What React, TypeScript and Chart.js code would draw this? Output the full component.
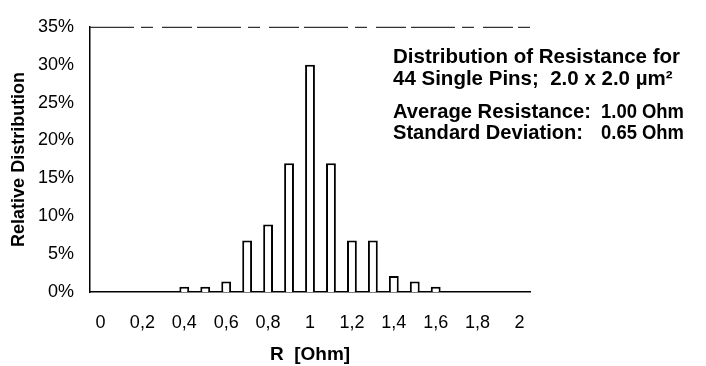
import React, { useEffect, useRef } from "react";
import { Chart, registerables } from "chart.js";

Chart.register(...registerables);

const categories: string[] = [
  "0", "0,1", "0,2", "0,3", "0,4", "0,5", "0,6", "0,7", "0,8", "0,9", "1",
  "1,1", "1,2", "1,3", "1,4", "1,5", "1,6", "1,7", "1,8", "1,9", "2",
];
const relativeDistribution: number[] = [
  0, 0, 0, 0, 0.7, 0.7, 1.4, 6.8, 8.9, 17, 30, 17, 6.8, 6.8, 2.1, 1.4, 0.7, 0, 0, 0, 0,
];
const yTicks: number[] = [0, 5, 10, 15, 20, 25, 30, 35];
const titleLines: string[] = ["Distribution of Resistance for", "44 Single Pins;  2.0 x 2.0 µm²"];
const statLabels: string[] = ["Average Resistance:", "Standard Deviation:"];
const statValues: string[] = ["1.00 Ohm", "0.65 Ohm"];

const FONT = "'Liberation Sans', Arial, Helvetica, sans-serif";

const annotationPlugin = {
  id: "annotation",
  afterDraw(chart: any) {
    const ctx = chart.ctx as CanvasRenderingContext2D;
    const area = chart.chartArea;
    ctx.save();
    // broken top frame line (scanned look)
    ctx.strokeStyle = "#333";
    ctx.lineWidth = 1.2;
    ctx.setLineDash([44, 7, 12, 9, 30, 5]);
    ctx.beginPath();
    ctx.moveTo(area.left, area.top + 0.5);
    ctx.lineTo(area.right, area.top + 0.5);
    ctx.stroke();
    ctx.setLineDash([]);

    ctx.fillStyle = "#000";
    ctx.font = `bold 20.5px ${FONT}`;
    ctx.textBaseline = "middle";
    ctx.textAlign = "left";
    const x0 = 393;
    const xr = 684;
    ctx.fillText(titleLines[0], x0, 57);
    ctx.fillText(titleLines[1], x0, 79);
    ctx.fillText(statLabels[0], x0, 112, 198);
    ctx.fillText(statLabels[1], x0, 133, 190);
    ctx.textAlign = "right";
    ctx.fillText(statValues[0], xr, 112, 83);
    ctx.fillText(statValues[1], xr, 133, 83);
    ctx.restore();
  },
};

export default function App() {
  const canvasRef = useRef<HTMLCanvasElement | null>(null);

  useEffect(() => {
    document.body.style.margin = "0";
    const canvas = canvasRef.current;
    if (!canvas) return;
    const chart = new Chart(canvas, {
      type: "bar",
      data: {
        labels: categories,
        datasets: [
          {
            data: relativeDistribution,
            backgroundColor: "#ffffff",
            borderColor: "#000000",
            borderWidth: 2,
            borderSkipped: "bottom",
            barPercentage: 0.47,
            categoryPercentage: 1,
          },
        ],
      },
      options: {
        animation: false,
        responsive: false,
        maintainAspectRatio: false,
        layout: { padding: { left: 0, right: 176, top: 15, bottom: 0 } },
        plugins: {
          legend: { display: false },
          tooltip: { enabled: false },
        },
        scales: {
          x: {
            type: "category",
            grid: { display: false, drawTicks: false },
            border: { display: true, color: "#000", width: 1.5 },
            ticks: {
              autoSkip: false,
              maxRotation: 0,
              minRotation: 0,
              padding: 20,
              color: "#000",
              font: { family: FONT, size: 18 },
              callback: (_v: any, i: number) => (i % 2 === 0 ? categories[i] : ""),
            },
            title: {
              display: true,
              text: "R  [Ohm]",
              color: "#000",
              font: { family: FONT, size: 19, weight: "bold" },
              padding: { top: 0, bottom: 0 },
            },
            afterFit: (scale: any) => {
              scale.height = 74;
            },
          },
          y: {
            min: 0,
            max: 35,
            grid: { display: false, drawTicks: false },
            border: { display: true, color: "#000", width: 1.5 },
            afterBuildTicks: (scale: any) => {
              scale.ticks = yTicks.map((v) => ({ value: v }));
            },
            ticks: {
              padding: 16,
              color: "#000",
              font: { family: FONT, size: 18 },
              callback: (v: any) => `${v}%`,
            },
            title: {
              display: true,
              text: "Relative Distribution",
              color: "#000",
              font: { family: FONT, size: 18, weight: "bold" },
              padding: { top: 8, bottom: 0 },
            },
            afterFit: (scale: any) => {
              scale.width = 90;
            },
          },
        },
      },
      plugins: [annotationPlugin],
    });
    return () => chart.destroy();
  }, []);

  return (
    <div style={{ width: 706, height: 366 }}>
      <canvas ref={canvasRef} width={706} height={366} style={{ display: "block" }} />
    </div>
  );
}
